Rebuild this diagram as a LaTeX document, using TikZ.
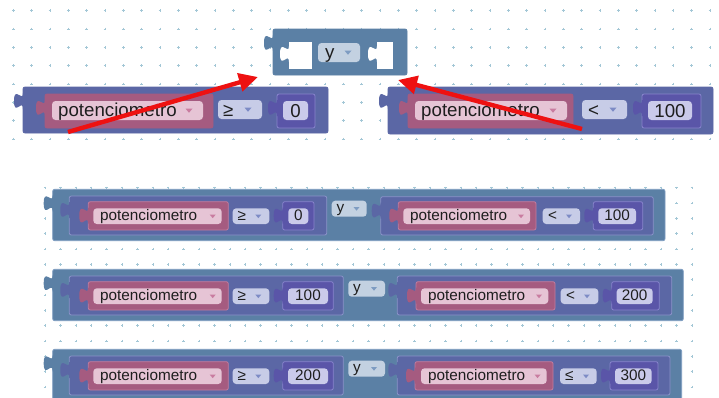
\documentclass[tikz,border=0pt]{standalone}
\usepackage{fontspec}
\setmainfont{Liberation Sans}
\usetikzlibrary{arrows.meta}
\definecolor{logicc}{HTML}{5B80A5}
\definecolor{cmpc}{HTML}{5B67A5}
\definecolor{varc}{HTML}{A55B80}
\definecolor{numc}{HTML}{5A55A8}
\definecolor{pillv}{HTML}{E6C4D5}
\definecolor{pillo}{HTML}{C7CCE7}
\definecolor{pilln}{HTML}{CACAEA}
\definecolor{pilly}{HTML}{C3D1E1}
\definecolor{arrv}{HTML}{C97CA0}
\definecolor{arro}{HTML}{7D8BC5}
\definecolor{arry}{HTML}{7E9CC2}
\definecolor{cmpb}{HTML}{8A92C8}
\definecolor{varb}{HTML}{C27C9E}
\definecolor{numb}{HTML}{8884CC}
\definecolor{logb}{HTML}{7C9CC0}
\definecolor{dotc}{HTML}{A3C7D6}
\definecolor{txtc}{HTML}{1E1E1E}
\definecolor{redc}{HTML}{EE1111}
\newcommand\tabshape[3]{%
 \fill[#3] ({#1+1.2},{#2}) -- ({#1},{#2}) .. controls ({#1},{#2+10}) and ({#1-9},{#2-8}) .. ({#1-9},{#2+8}) .. controls ({#1-9},{#2+24}) and ({#1},{#2+5}) .. ({#1},{#2+16}) -- ({#1+1.2},{#2+16}) -- cycle;}
\newcommand\blockbox[6]{%
 \filldraw[fill=#5, draw=#6, line width=0.8pt, rounded corners=2pt] (#1,#2) rectangle (#3,#4);
 \tabshape{#1}{#2+6}{#5}}
\newcommand\pillbox[5]{\fill[#5, rounded corners=3.5pt] (#1,#2) rectangle (#3,#4);}
\newcommand\ddarrow[4]{\fill[#3] ({#1-#4},{#2-#4*0.55}) -- ({#1+#4},{#2-#4*0.55}) -- ({#1},{#2+#4*0.65}) -- cycle;}
\newcommand\fA{\fontsize{18.7}{20}\selectfont}
\newcommand\fB{\fontsize{15.3}{17}\selectfont}
\tikzset{
 lbl/.style={anchor=base west, inner sep=0pt, text=txtc},
 lblc/.style={anchor=base, inner sep=0pt, text=txtc},
 redarrow/.style={draw=redc, line width=4.4pt, -{Triangle[length=19pt,width=18pt]}}
}
\begin{document}
\begin{tikzpicture}[x=1pt,y=-1pt]
\useasboundingbox (0,0) rectangle (719,397);
\fill[white] (0,0) rectangle (719,397);
% grid dots
\foreach \i in {0,...,38} \foreach \j in {0,...,7}
 \draw[dotc, line width=0.6pt] ({13.3+18.33*\i-1.3},{10.7+18.33*\j}) -- ++(2.6,0) ({13.3+18.33*\i},{10.7+18.33*\j-1.3}) -- ++(0,2.6);
\foreach \i in {0,...,42} \foreach \j in {0,...,13}
 \draw[dotc, line width=0.6pt] ({45+15.4*\i-1.2},{187.7+15.33*\j}) -- ++(2.4,0) ({45+15.4*\i},{187.7+15.33*\j-1.2}) -- ++(0,2.4);
% ===== top "y" block
\blockbox{273}{29}{407}{75}{logicc}{logicc}
\fill[white] (289,42) rectangle (312,69); \tabshape{289}{46}{white}
\pillbox{318}{43}{360}{62}{pilly}
\node[lbl, font=\fA] (ty) at (325,58) {y};
\ddarrow{348}{52.5}{arry}{3.5}
\fill[white] (377,42) rectangle (393,69); \tabshape{377}{46}{white}
% ===== top left compare
\blockbox{23}{87}{328}{133}{cmpc}{cmpc}
\blockbox{45}{94}{213}{128}{varc}{varc}
\pillbox{52}{101}{203}{120}{pillv}
\node[lbl, font=\fA] (t1v) at (58,116.5) {potenciometro};
\ddarrow{189}{110.5}{arrv}{3.5}
\pillbox{218}{100}{262}{119}{pillo}
\node[lbl, font=\fA] (t1o) at (223,116) {≥};
\ddarrow{248}{109.5}{arro}{3.5}
\blockbox{277}{94}{315}{128}{numc}{numb}
\pillbox{283}{101}{308}{120}{pilln}
\node[lblc, font=\fA] (t1n) at (295.5,117) {0};
% ===== top right compare
\blockbox{388}{87}{713}{134}{cmpc}{cmpc}
\blockbox{408}{94}{573}{128}{varc}{varc}
\pillbox{415}{101}{567}{120}{pillv}
\node[lbl, font=\fA] (t2v) at (421,116.5) {potenciometro};
\ddarrow{553}{110.5}{arrv}{3.5}
\pillbox{582}{100}{627}{119}{pillo}
\node[lbl, font=\fA] (t2o) at (588,116) {<};
\ddarrow{613}{109.5}{arro}{3.5}
\blockbox{642}{94}{701}{128}{numc}{numb}
\pillbox{648}{101}{692}{120}{pilln}
\node[lblc, font=\fA] (t2n) at (670,117) {100};
% ===== red arrows
\coordinate (a1s) at (68,132); \coordinate (a1e) at (258,77);
\coordinate (a2s) at (582,129); \coordinate (a2e) at (398,80);
\draw[redarrow] (a1s) -- (a1e);
\draw[redarrow] (a2s) -- (a2e);
% ===== bottom row 1
\blockbox{52.7}{189.3}{665}{240.7}{logicc}{logb}
\blockbox{69.3}{196}{326.7}{235}{cmpc}{cmpb}
\blockbox{88.3}{201.7}{228.3}{230}{varc}{varb}
\pillbox{93.3}{208.3}{221.7}{224}{pillv}
\node[lbl, font=\fB] (r1v) at (100,220.5) {potenciometro};
\ddarrow{212.7}{216.2}{arrv}{3}
\pillbox{232.7}{208.3}{269.3}{224}{pillo}
\node[lbl, font=\fB] (r1o) at (237.5,220.3) {≥};
\ddarrow{258.3}{216.2}{arro}{3}
\blockbox{282.7}{201.7}{314}{230}{numc}{numb}
\pillbox{288.3}{208.3}{308.3}{224}{pilln}
\node[lblc, font=\fB] (r1n) at (298.3,220.8) {0};
\pillbox{331.7}{200.7}{366.7}{216.7}{pilly}
\node[lbl, font=\fB] (r1y) at (336.5,212.8) {y};
\ddarrow{356.5}{208.7}{arry}{3}
\blockbox{380.7}{196.7}{653.3}{235}{cmpc}{cmpb}
\blockbox{398.3}{201.7}{536}{230}{varc}{varb}
\pillbox{403.3}{208.3}{530}{224}{pillv}
\node[lbl, font=\fB] (r1v2) at (410,220.5) {potenciometro};
\ddarrow{521}{216.2}{arrv}{3}
\pillbox{542.7}{208.3}{580}{224}{pillo}
\node[lbl, font=\fB] (r1o2) at (548,220.3) {<};
\ddarrow{569}{216.2}{arro}{3}
\blockbox{593.3}{201.7}{642.7}{230}{numc}{numb}
\pillbox{598.3}{208.3}{636}{224}{pilln}
\node[lblc, font=\fB] (r1n2) at (617.2,220.8) {100};
% ===== bottom row 2
\blockbox{52.7}{269.3}{683.3}{320.7}{logicc}{logb}
\blockbox{69.3}{276}{343.3}{315}{cmpc}{cmpb}
\blockbox{88.3}{281.7}{228.3}{310}{varc}{varb}
\pillbox{93.3}{288.3}{221.7}{304}{pillv}
\node[lbl, font=\fB] (r2v) at (100,300.5) {potenciometro};
\ddarrow{212.7}{296.2}{arrv}{3}
\pillbox{232.7}{288.3}{269.3}{304}{pillo}
\node[lbl, font=\fB] (r2o) at (237.5,300.3) {≥};
\ddarrow{258.3}{296.2}{arro}{3}
\blockbox{282.7}{281.7}{333.3}{310}{numc}{numb}
\pillbox{288}{288.3}{328}{304}{pilln}
\node[lblc, font=\fB] (r2n) at (308,300.8) {100};
\pillbox{348.3}{280.7}{385}{296.7}{pilly}
\node[lbl, font=\fB] (r2y) at (353,292.8) {y};
\ddarrow{374}{288.7}{arry}{3}
\blockbox{397.3}{276}{671.7}{315}{cmpc}{cmpb}
\blockbox{416}{281.7}{555}{310}{varc}{varb}
\pillbox{421}{288.3}{548.3}{304}{pillv}
\node[lbl, font=\fB] (r2v2) at (428,300.5) {potenciometro};
\ddarrow{539}{296.2}{arrv}{3}
\pillbox{560.7}{288.3}{598.3}{304}{pillo}
\node[lbl, font=\fB] (r2o2) at (566,300.3) {<};
\ddarrow{587}{296.2}{arro}{3}
\blockbox{611.7}{281.7}{659.3}{310}{numc}{numb}
\pillbox{616.7}{288.3}{652.7}{304}{pilln}
\node[lblc, font=\fB] (r2n2) at (634.7,300.8) {200};
% ===== bottom row 3
\blockbox{52.7}{349.3}{681.7}{400.7}{logicc}{logb}
\blockbox{69.3}{356}{343.3}{395}{cmpc}{cmpb}
\blockbox{88.3}{361.7}{228.3}{390}{varc}{varb}
\pillbox{93.3}{368.3}{221.7}{384}{pillv}
\node[lbl, font=\fB] (r3v) at (100,380.5) {potenciometro};
\ddarrow{212.7}{376.2}{arrv}{3}
\pillbox{232.7}{368.3}{269.3}{384}{pillo}
\node[lbl, font=\fB] (r3o) at (237.5,380.3) {≥};
\ddarrow{258.3}{376.2}{arro}{3}
\blockbox{282.7}{361.7}{333.3}{390}{numc}{numb}
\pillbox{288}{368.3}{328}{384}{pilln}
\node[lblc, font=\fB] (r3n) at (308,380.8) {200};
\pillbox{348.3}{360.7}{385}{376.7}{pilly}
\node[lbl, font=\fB] (r3y) at (353,372.8) {y};
\ddarrow{374}{368.7}{arry}{3}
\blockbox{397.3}{356}{670}{395}{cmpc}{cmpb}
\blockbox{415}{361.7}{553}{390}{varc}{varb}
\pillbox{421}{368.3}{546.7}{384}{pillv}
\node[lbl, font=\fB] (r3v2) at (428,380.5) {potenciometro};
\ddarrow{537.5}{376.2}{arrv}{3}
\pillbox{560}{368.3}{596.7}{384}{pillo}
\node[lbl, font=\fB] (r3o2) at (565,380.3) {≤};
\ddarrow{586}{376.2}{arro}{3}
\blockbox{610}{361.7}{658}{390}{numc}{numb}
\pillbox{615}{368.3}{651.7}{384}{pilln}
\node[lblc, font=\fB] (r3n2) at (633.3,380.8) {300};
\end{tikzpicture}
\end{document}
